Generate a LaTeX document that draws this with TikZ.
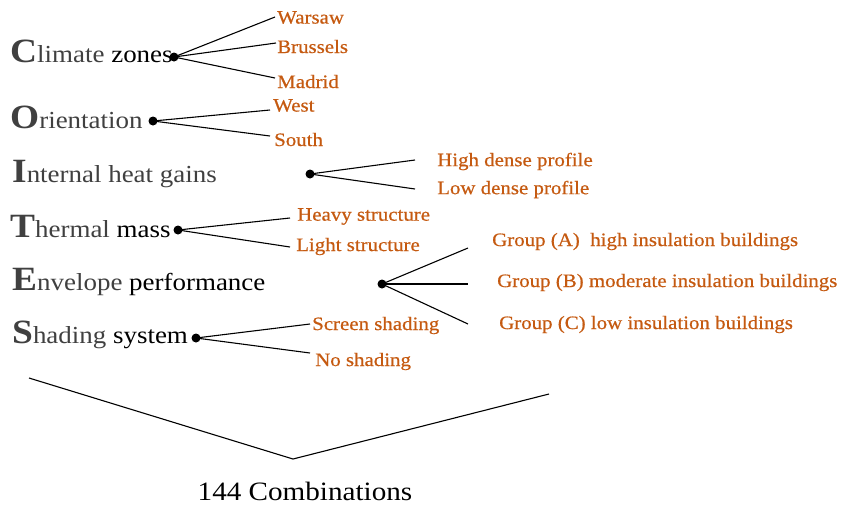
\documentclass[tikz,border=0pt]{standalone}
\usepackage{fontspec}
\setmainfont[FakeStretch=1.1]{Liberation Serif}
\newfontfamily\optfont[FakeStretch=1.1,FakeBold=0.6]{Liberation Serif}
\definecolor{orng}{RGB}{197,90,17}
\definecolor{dgray}{RGB}{64,64,64}
\tikzset{
  cat/.style={anchor=base west, inner sep=0pt, font=\fontsize{24.5}{28}\selectfont, text=dgray},
  opt/.style={anchor=west, inner sep=0pt, yshift=-1.5pt, font=\optfont\fontsize{19}{20}\selectfont, text=orng},
  hub/.style={circle, fill=black, inner sep=0pt, minimum size=9pt},
  br/.style={line width=1.1pt, black},
}
\newcommand{\initl}[1]{{\fontsize{34}{40}\selectfont\bfseries #1}}
\begin{document}
\begin{tikzpicture}[x=1pt,y=-1pt]
\useasboundingbox (0,0) rectangle (842,507);
% categories
\node[cat] (c1) at (10,62) {\initl{C}limate \textcolor{black}{zones}};
\node[cat] (c2) at (10,128) {\initl{O}rientation};
\node[cat] (c3) at (12,182) {\initl{I}nternal heat gains};
\node[cat] (c4) at (10,237) {\initl{T}hermal \textcolor{black}{mass}};
\node[cat] (c5) at (12,290) {\initl{E}nvelope \textcolor{black}{performance}};
\node[cat] (c6) at (12,343) {\initl{S}hading \textcolor{black}{system}};
% hubs
\node[hub] (h1) at (174,57) {};
\node[hub] (h2) at (153,121) {};
\node[hub] (h3) at (310,174) {};
\node[hub] (h4) at (178,230) {};
\node[hub] (h5) at (382,284) {};
\node[hub] (h6) at (196,338) {};
% options
\node[opt] (o11) at (277,16) {Warsaw};
\node[opt] (o12) at (277,45) {Brussels};
\node[opt] (o13) at (277,80) {Madrid};
\node[opt] (o21) at (273,104) {West};
\node[opt] (o22) at (274,138) {South};
\node[opt] (o31) at (437,160) {High dense profile};
\node[opt] (o32) at (437,188) {Low dense profile};
\node[opt] (o41) at (297,215) {Heavy structure};
\node[opt] (o42) at (296,245) {Light structure};
\node[opt] (o51) at (492,240) {Group (A)\ \ high insulation buildings};
\node[opt] (o52) at (497,281) {Group (B) moderate insulation buildings};
\node[opt] (o53) at (499,323) {Group (C) low insulation buildings};
\node[opt] (o61) at (312,324) {Screen shading};
\node[opt] (o62) at (315,360) {No shading};
% line ends
\coordinate (e11) at (275,17);
\coordinate (e12) at (276,43);
\coordinate (e13) at (275,78);
\coordinate (e21) at (270,110);
\coordinate (e22) at (270,136);
\coordinate (e31) at (415,160);
\coordinate (e32) at (415,189);
\coordinate (e41) at (290,218);
\coordinate (e42) at (290,247);
\coordinate (e51) at (468,248);
\coordinate (e52) at (468,284);
\coordinate (e53) at (468,324);
\coordinate (e61) at (310,324);
\coordinate (e62) at (310,353);
\foreach \a/\b in {h1/e11,h1/e12,h1/e13,h2/e21,h2/e22,h3/e31,h3/e32,h4/e41,h4/e42,h5/e51,h5/e52,h5/e53,h6/e61,h6/e62}
  \draw[br] (\a.center) -- (\b);
% bracket
\coordinate (bl) at (29,378);
\coordinate (bv) at (293,459);
\coordinate (brr) at (549,394);
\draw[br] (bl) -- (bv) -- (brr);
\node[anchor=base, inner sep=0pt, font=\fontsize{26.5}{28}\selectfont] (tot) at (305,500) {144 Combinations};
\end{tikzpicture}
\end{document}
